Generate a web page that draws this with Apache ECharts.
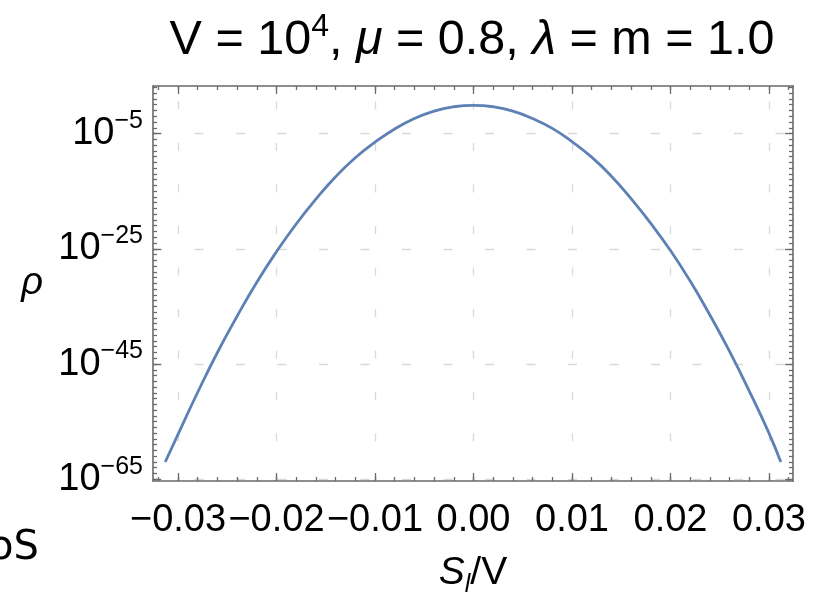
<!DOCTYPE html>
<html><head><meta charset="utf-8">
<script src="https://cdn.jsdelivr.net/npm/echarts@6/dist/echarts.min.js"></script>
<style>html,body{margin:0;padding:0;background:#fff}#c{width:815px;height:592px}</style>
</head><body><div id="c"></div>
<script>
// S_l / V values and log10(rho)
const xValues = [-0.0313, -0.030, -0.028, -0.026, -0.024, -0.022, -0.020, -0.018, -0.016, -0.014, -0.012, -0.010, -0.008, -0.006, -0.004, -0.002, 0,
  0.002, 0.004, 0.006, 0.008, 0.010, 0.012, 0.014, 0.016, 0.018, 0.020, 0.022, 0.024, 0.026, 0.028, 0.030, 0.0312];
const log10Rho = [-62.0, -57.2, -49.9, -43.0, -36.7, -30.8, -25.5, -20.7, -16.4, -12.5, -9.2, -6.5, -4.2, -2.4, -1.1, -0.35, -0.1,
  -0.35, -1.1, -2.4, -4.1, -6.4, -9.1, -12.4, -16.3, -20.6, -25.3, -30.6, -36.5, -42.8, -49.7, -57.0, -62.0];
const xTickValues = [-0.03, -0.02, -0.01, 0, 0.01, 0.02, 0.03];
const xTickLabels = ['\u22120.03', '\u22120.02', '\u22120.01', '0.00', '0.01', '0.02', '0.03'];
const yTickExponents = [-65, -45, -25, -5];
const yTickLabels = ['\u221265', '\u221245', '\u221225', '\u22125'];

const X_MIN = -0.03254, X_MAX = 0.03244, Y_MIN = -65.3, Y_MAX = 3.25;
const FONT = "'Liberation Sans', Arial, sans-serif";
const FRAME = '#6a6a6a';

const xMinor = []; for (let i = -16; i <= 16; i++) xMinor.push(+(i * 0.002).toFixed(4));
const yMinor = []; for (let e = -65; e <= 3; e++) yMinor.push(e);

const seriesData = xValues.map((x, i) => [x, log10Rho[i]]);

function xAxisDef(pos, major, labels) {
  return {
    type: 'value', position: pos, min: X_MIN, max: X_MAX,
    axisLine: { show: major, onZero: false, lineStyle: { color: FRAME, width: 1.6 } },
    axisTick: { show: true, inside: true, length: major ? 8 : 4, customValues: major ? xTickValues : xMinor,
      lineStyle: { color: FRAME, width: 1.3 } },
    axisLabel: labels ? {
      show: true, customValues: xTickValues, margin: 21, color: '#000', fontSize: 38, fontFamily: FONT,
      formatter: v => xTickLabels[xTickValues.findIndex(t => Math.abs(t - v) < 1e-9)]
    } : { show: false },
    splitLine: labels ? { show: true, lineStyle: { color: '#d9d9d9', width: 1.3, type: [8, 33.5], dashOffset: 26 } } : { show: false },
    name: labels ? '{i|S}{sub|l}{n|/V}' : '',
    nameLocation: 'middle', nameGap: 73,
    nameTextStyle: {
      rich: {
        i: { fontSize: 39, fontStyle: 'italic', fontFamily: FONT, color: '#000', lineHeight: 40, verticalAlign: 'top' },
        sub: { fontSize: 25, fontStyle: 'italic', fontFamily: FONT, color: '#000', lineHeight: 25, padding: [22, 0, 0, 0] },
        n: { fontSize: 39, fontFamily: FONT, color: '#000', lineHeight: 40, verticalAlign: 'top' }
      }
    }
  };
}
function yAxisDef(pos, major, labels) {
  return {
    type: 'value', position: pos, min: Y_MIN, max: Y_MAX,
    axisLine: { show: major, onZero: false, lineStyle: { color: FRAME, width: 1.6 } },
    axisTick: { show: true, inside: true, length: major ? 8 : 4, customValues: major ? yTickExponents : yMinor,
      lineStyle: { color: FRAME, width: 1.3 } },
    axisLabel: labels ? {
      show: true, customValues: yTickExponents, margin: 10,
      formatter: v => '{b|10}{s|' + yTickLabels[yTickExponents.indexOf(Math.round(v))] + '}',
      rich: {
        b: { fontSize: 38, fontFamily: FONT, color: '#000', lineHeight: 50 },
        s: { fontSize: 25, fontFamily: FONT, color: '#000', lineHeight: 25, verticalAlign: 'top' }
      }
    } : { show: false },
    splitLine: labels ? { show: true, lineStyle: { color: '#d9d9d9', width: 1.3, type: [9, 32.5], dashOffset: 0 } } : { show: false },
    name: labels ? '\u03C1' : '',
    nameLocation: 'middle', nameRotate: 0, nameGap: 110,
    nameTextStyle: { fontSize: 38, fontStyle: 'italic', fontFamily: FONT, color: '#000', padding: [26, 0, 0, 0] }
  };
}

const chart = echarts.init(document.getElementById('c'), null, { renderer: 'canvas' });
chart.setOption({
  backgroundColor: '#fff',
  animation: false,
  title: {
    left: 472, top: 11, padding: 0, textAlign: 'center',
    text: '{n|V = 10}{sup|4}{n|, }{i|\u03BC}{n| = 0.8, }{i|\u03BB}{n| = m = 1.0}',
    textStyle: {
      fontWeight: 'normal',
      rich: {
        n: { fontSize: 48.5, fontFamily: FONT, fontWeight: 'normal', color: '#000', lineHeight: 60 },
        i: { fontSize: 48.5, fontFamily: FONT, fontStyle: 'italic', fontWeight: 'normal', color: '#000', lineHeight: 60 },
        sup: { fontSize: 32, fontFamily: FONT, fontWeight: 'normal', color: '#000', lineHeight: 32, verticalAlign: 'top' }
      }
    }
  },
  grid: { left: 153, right: 22, top: 86, bottom: 111, containLabel: false, outerBoundsMode: 'none' },
  xAxis: [xAxisDef('bottom', true, true), xAxisDef('bottom', false, false), xAxisDef('top', true, false), xAxisDef('top', false, false)],
  yAxis: [yAxisDef('left', true, true), yAxisDef('left', false, false), yAxisDef('right', true, false), yAxisDef('right', false, false)],
  series: [{
    type: 'line', xAxisIndex: 0, yAxisIndex: 0, data: seriesData, smooth: true, showSymbol: false, symbol: 'none',
    lineStyle: { color: '#5E81B5', width: 2.8 }
  }],
  graphic: [{
    type: 'text', left: -11, top: 529,
    style: { text: 'oS', font: "40px 'DejaVu Sans', sans-serif", fill: '#000' }
  }]
});
</script></body></html>
